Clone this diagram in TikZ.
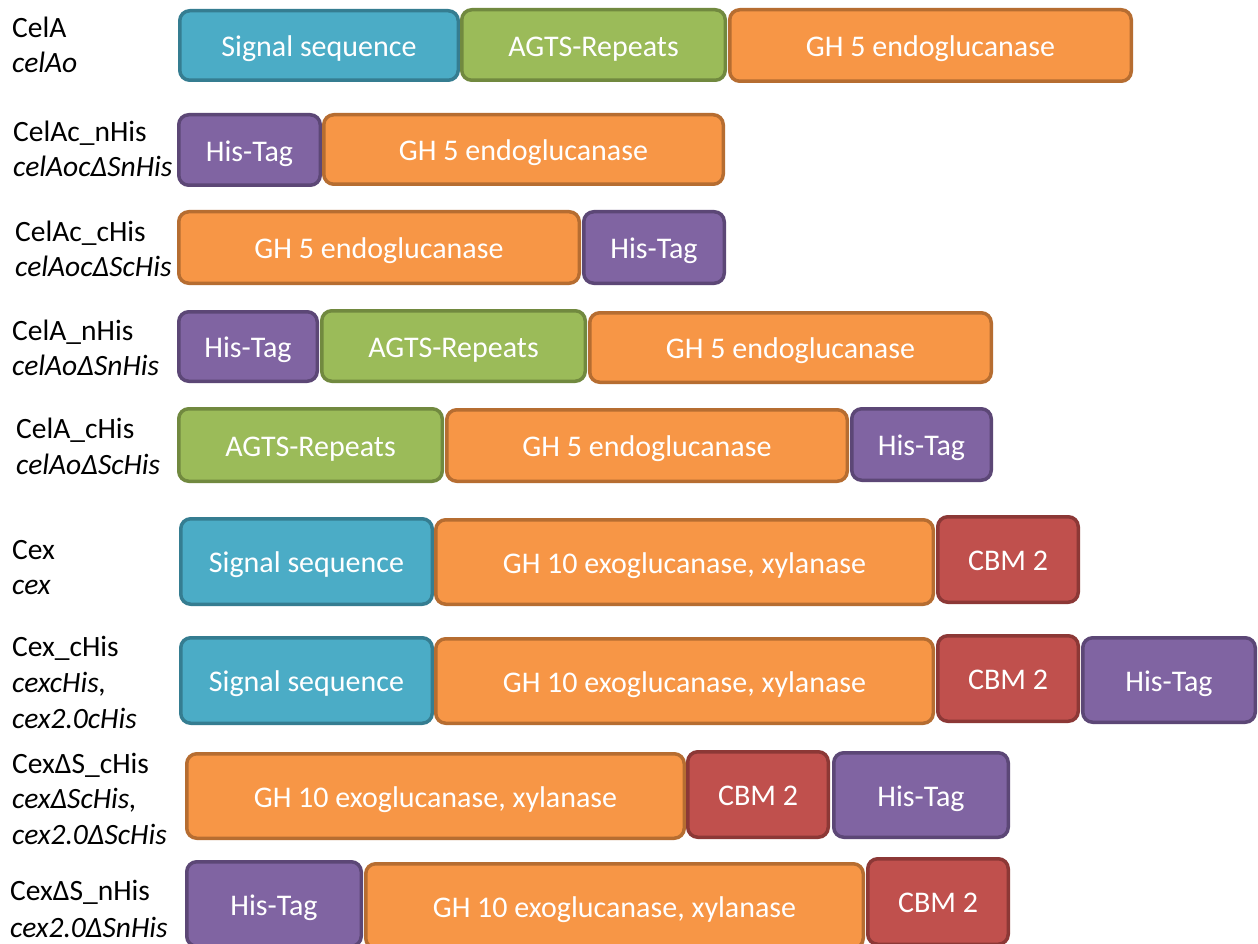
\documentclass[tikz,border=0pt]{standalone}
\usepackage{fontspec}
\setmainfont{Carlito}
\definecolor{bluef}{HTML}{4BACC6}\definecolor{blued}{HTML}{357D91}
\definecolor{greenf}{HTML}{9BBB59}\definecolor{greend}{HTML}{71893F}
\definecolor{orangef}{HTML}{F79646}\definecolor{oranged}{HTML}{B66D31}
\definecolor{purplef}{HTML}{8064A2}\definecolor{purpled}{HTML}{5C4776}
\definecolor{redf}{HTML}{C0504D}\definecolor{redd}{HTML}{8C3836}
\tikzset{
 dom/.style={draw, line width=3.5pt, rounded corners=10pt, text=white,
   font=\fontsize{30}{36}\selectfont, inner sep=0pt, outer sep=0pt, anchor=north west,
   text height=24pt, text depth=1.5pt},
 sig/.style={fill=bluef, draw=blued},
 agts/.style={fill=greenf, draw=greend},
 gh/.style={fill=orangef, draw=oranged},
 his/.style={fill=purplef, draw=purpled},
 cbm/.style={fill=redf, draw=redd},
 lab/.style={anchor=base west, inner sep=0pt, font=\fontsize{29.5}{35}\selectfont},
 labi/.style={lab, font=\fontsize{29.5}{35}\selectfont\itshape}
}
\newcommand\dom[7]{\node[dom,#2,minimum width=#5pt-3.5pt,minimum height=#6pt-3.5pt] (#1) at (#3+1.75,#4+1.75) {#7};}
\begin{document}
\begin{tikzpicture}[x=1pt,y=-1pt]
\clip (0,0) rectangle (1258,944);
\fill[white] (0,0) rectangle (1258,944);
% Row 1
\node[lab] (l1a) at (12,38) {CelA};
\node[labi] (l1b) at (12,73) {celAo};
\dom{a1}{sig}{178}{9}{282}{73}{Signal sequence}
\dom{a2}{agts}{460}{8}{267}{74}{AGTS-Repeats}
\dom{a3}{gh}{728}{8}{405}{75}{GH 5 endoglucanase}
% Row 2
\node[lab] (l2a) at (13,142) {CelAc\_nHis};
\node[labi] (l2b) at (13,177) {celAocΔSnHis};
\dom{b1}{his}{177}{113}{145}{74}{His-Tag}
\dom{b2}{gh}{322}{113}{403}{73}{GH 5 endoglucanase}
% Row 3
\node[lab] (l3a) at (15,241) {CelAc\_cHis};
\node[labi] (l3b) at (15,276) {celAocΔScHis};
\dom{c1}{gh}{177}{210}{404}{75}{GH 5 endoglucanase}
\dom{c2}{his}{582}{210}{144}{75}{His-Tag}
% Row 4
\node[lab] (l4a) at (12,340) {CelA\_nHis};
\node[labi] (l4b) at (12,375) {celAoΔSnHis};
\dom{d1}{his}{177}{310}{142}{73}{His-Tag}
\dom{d2}{agts}{320}{309}{267}{74}{AGTS-Repeats}
\dom{d3}{gh}{588}{311}{405}{73}{GH 5 endoglucanase}
% Row 5
\node[lab] (l5a) at (16,438) {CelA\_cHis};
\node[labi] (l5b) at (16,474) {celAoΔScHis};
\dom{e1}{agts}{177}{407}{267}{76}{AGTS-Repeats}
\dom{e2}{gh}{445}{408}{404}{75}{GH 5 endoglucanase}
\dom{e3}{his}{850}{407}{143}{75}{His-Tag}
% Row 6
\node[lab] (l6a) at (12,559) {Cex};
\node[labi] (l6b) at (12,594) {cex};
\dom{f1}{sig}{179}{517}{255}{89}{Signal sequence}
\dom{f2}{gh}{434}{518}{501}{88}{GH 10 exoglucanase, xylanase}
\dom{f3}{cbm}{936}{515}{144}{89}{CBM 2}
% Row 7
\node[lab] (l7a) at (12,656) {Cex\_cHis};
\node[labi] (l7b) at (12,692) {cexcHis,};
\node[labi] (l7c) at (12,728) {cex2.0cHis};
\dom{g1}{sig}{179}{636}{255}{89}{Signal sequence}
\dom{g2}{gh}{434}{637}{501}{88}{GH 10 exoglucanase, xylanase}
\dom{g3}{cbm}{936}{634}{144}{89}{CBM 2}
\dom{g4}{his}{1081}{636}{176}{88}{His-Tag}
% Row 8
\node[lab] (l8a) at (12,773) {CexΔS\_cHis};
\node[labi] (l8b) at (12,808) {cexΔScHis,};
\node[labi] (l8c) at (12,844) {cex2.0ΔScHis};
\dom{h1}{gh}{185}{752}{501}{88}{GH 10 exoglucanase, xylanase}
\dom{h2}{cbm}{686}{750}{144}{89}{CBM 2}
\dom{h3}{his}{832}{751}{178}{88}{His-Tag}
% Row 9
\node[lab] (l9a) at (10,900) {CexΔS\_nHis};
\node[labi] (l9b) at (10,937) {cex2.0ΔSnHis};
\dom{i1}{his}{185}{860}{178}{88}{His-Tag}
\dom{i2}{gh}{364}{862}{501}{88}{GH 10 exoglucanase, xylanase}
\dom{i3}{cbm}{866}{857}{144}{89}{CBM 2}
\end{tikzpicture}
\end{document}
